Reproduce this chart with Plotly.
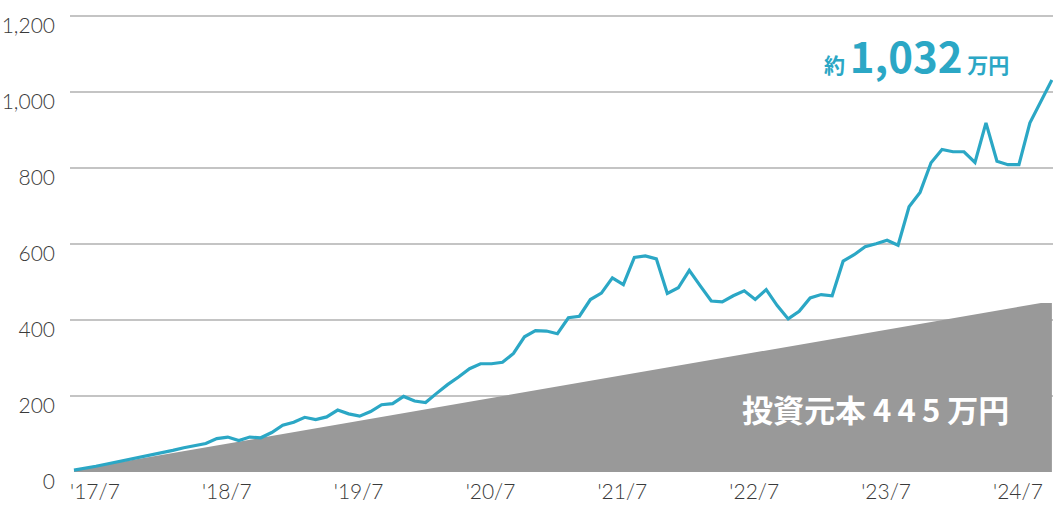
import plotly.graph_objects as go

# month index 0 = 2017/7 ... 89
months = list(range(90))

asset_value = [5, 9, 15, 21, 27, 33, 39, 45, 49, 57,
               64, 69, 75, 88, 92, 83, 92, 90, 104, 123,
               131, 144, 138, 145, 163, 153, 147, 159, 177, 180,
               199, 187, 183, 207, 230, 250, 272, 285, 285, 289,
               312, 356, 372, 371, 364, 406, 410, 454, 471, 511,
               493, 565, 569, 561, 470, 485, 531, 490, 450, 448,
               464, 477, 454, 480, 438, 403, 423, 458, 467, 464,
               555, 572, 593, 601, 610, 597, 698, 736, 814, 849,
               843, 843, 815, 919, 818, 809, 809, 919, 976, 1032]

principal = [5, 10, 15, 20, 25, 30, 35, 40, 45, 50,
             55, 60, 65, 70, 75, 80, 85, 90, 95, 100,
             105, 110, 115, 120, 125, 130, 135, 140, 145, 150,
             155, 160, 165, 170, 175, 180, 185, 190, 195, 200,
             205, 210, 215, 220, 225, 230, 235, 240, 245, 250,
             255, 260, 265, 270, 275, 280, 285, 290, 295, 300,
             305, 310, 315, 320, 325, 330, 335, 340, 345, 350,
             355, 360, 365, 370, 375, 380, 385, 390, 395, 400,
             405, 410, 415, 420, 425, 430, 435, 440, 445, 445]

tick_months = [0, 12, 24, 36, 48, 60, 72, 84]
tick_labels = ["'17/7", "'18/7", "'19/7", "'20/7", "'21/7", "'22/7", "'23/7", "'24/7"]
y_ticks = [0, 200, 400, 600, 800, 1000, 1200]
y_labels = ["0", "200", "400", "600", "800", "1,000", "1,200"]

LINE = "#2ba7c5"
GRAY = "#999999"
FONT = "Lato"
TXT = "#3a3a3a"

fig = go.Figure()
fig.add_trace(go.Scatter(x=months, y=principal, mode="lines", fill="tozeroy",
                         fillcolor=GRAY, line=dict(color=GRAY, width=0),
                         hoverinfo="skip", showlegend=False))
fig.add_trace(go.Scatter(x=months, y=asset_value, mode="lines",
                         line=dict(color=LINE, width=3.2), showlegend=False))

fig.add_annotation(xref="paper", yref="paper", x=0.957, y=0.914,
                   xanchor="right", yanchor="middle", showarrow=False,
                   text="<span style='font-size:21px'>約 </span>"
                        "<span style='font-size:42px'><b>1,032</b></span>"
                        "<span style='font-size:21px'> 万円</span>",
                   font=dict(family="Noto Sans CJK JP", color=LINE, weight="bold"))
fig.add_annotation(xref="paper", yref="paper", x=0.957, y=0.14,
                   xanchor="right", yanchor="middle", showarrow=False,
                   text="投資元本 4\u20094\u20095 万円",
                   font=dict(family="Noto Sans CJK JP", size=31, color="white", weight="bold"))

fig.update_layout(
    width=1058, height=514,
    margin=dict(l=70, r=5, t=15, b=42, autoexpand=False),
    paper_bgcolor="white", plot_bgcolor="white",
    font=dict(family=FONT, color=TXT),
    xaxis=dict(range=[-0.36, 89.1], tickvals=tick_months, ticktext=tick_labels,
               showgrid=False, zeroline=False, showline=False, automargin=False,
               ticks="", tickfont=dict(size=21, weight=300, color=TXT),
               ticklabelshift=21, ticklabelstandoff=5),
    yaxis=dict(range=[0, 1203], tickvals=y_ticks, ticktext=y_labels,
               showgrid=True, gridcolor="#c4c4c4", gridwidth=1.5, automargin=False,
               zeroline=False, showline=False, ticks="",
               tickfont=dict(size=21, weight=300, color=TXT),
               ticklabelshift=10, ticklabelstandoff=14),
)

fig.write_html("out.html", config={"displayModeBar": False},
               post_script="document.body.style.margin='0px';")
